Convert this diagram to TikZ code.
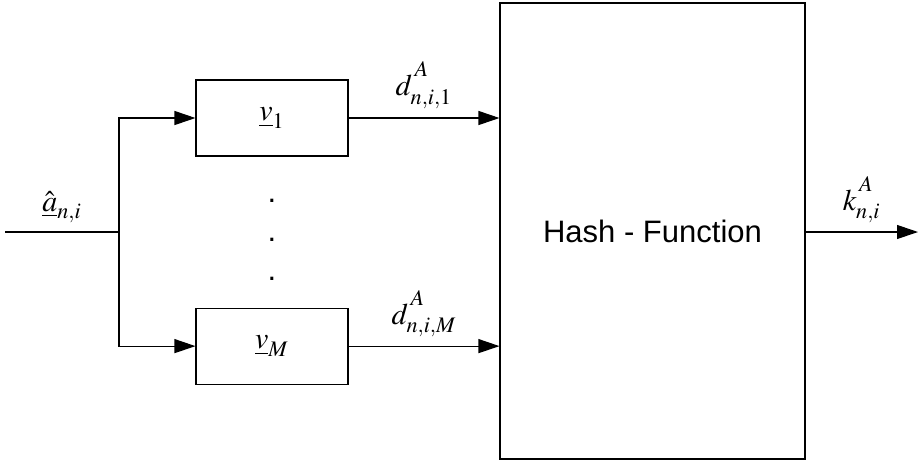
\documentclass[tikz,border=0pt]{standalone}
\usepackage{mathptmx}
\usepackage[no-math]{fontspec}
\newfontfamily\arialfont{Liberation Sans}
\usepackage{tikz}
\usetikzlibrary{positioning,arrows.meta}
\newcommand{\supA}{\,\raisebox{4pt}{$\scriptstyle A$}}

\begin{document}
\begin{tikzpicture}[x=0.5pt, y=-0.5pt, line width=0.55pt,
    font=\fontsize{15}{18}\selectfont,
    tip/.style={-{Triangle[length=10.5pt,width=7pt]}},
    sans/.style={font=\arialfont\fontsize{15.5}{18}\selectfont},
    vbox/.style={draw, rectangle, minimum width=76pt, minimum height=38pt, inner sep=0pt}]
    \useasboundingbox (0,0) rectangle (922,462);

    \node[vbox] (v1) at (272,118) {$\underline{v}_1$};
    \node[vbox, below=75.5pt of v1] (vM) {$\underline{v}_M$};
    \node[draw, rectangle, minimum width=152.5pt, minimum height=228pt, sans] (hash) at (652.5,231) {Hash - Function};

    \coordinate (in) at (5,232);
    \coordinate (split) at (119,232);
    \coordinate (out) at (918,232);

    \draw (in) -- node[above=1pt] {$\hat{\underline{a}}_{n,i}$} (split);
    \draw[tip] (split) |- (v1.west);
    \draw[tip] (split) |- (vM.west);

    \draw[tip] (v1.east) -- node[above=1pt] {$d^{\supA}_{n,i,1}$} (v1.east -| hash.west);
    \draw[tip] (vM.east) -- node[above=1pt] {$d^{\supA}_{n,i,M}$} (vM.east -| hash.west);
    \draw[tip] (hash.east |- out) -- node[above=1pt] {$k^{\supA}_{n,i}$} (out);

    \node[sans, anchor=base] (dot1) at (272,202) {.};
    \node[sans, below=19.5pt of dot1.base, anchor=base] (dot2) {.};
    \node[sans, below=19.5pt of dot2.base, anchor=base] (dot3) {.};
\end{tikzpicture}
\end{document}
